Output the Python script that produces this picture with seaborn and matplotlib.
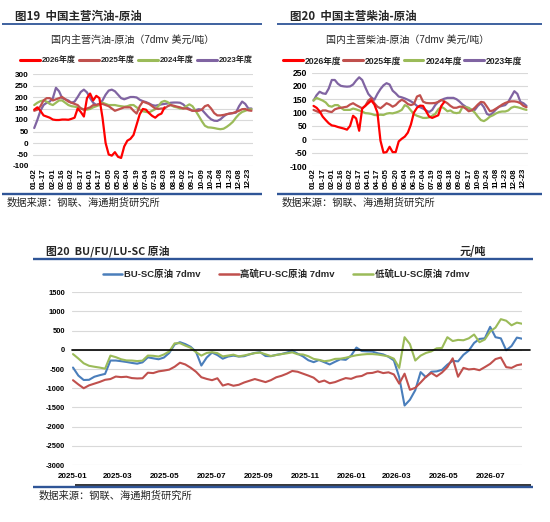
import numpy as np
import pandas as pd
import matplotlib
matplotlib.use("Agg")
import matplotlib.pyplot as plt
import matplotlib.dates as mdates
from matplotlib.lines import Line2D
import seaborn as sns

sns.set_theme(style="white")
plt.rcParams["font.family"] = ["Liberation Sans", "Noto Sans CJK SC", "DejaVu Sans"]
plt.rcParams["axes.unicode_minus"] = False

# ---------------- data ----------------
date_labels = ["01-02", "01-17", "02-01", "02-16", "03-02", "03-17", "04-01", "04-17",
               "05-05", "05-20", "06-04", "06-19", "07-04", "07-19", "08-03", "08-18",
               "09-02", "09-17", "10-09", "10-24", "11-08", "11-23", "12-08", "12-23"]
year_labels = ["2026年度", "2025年度", "2024年度", "2023年度"]

# gasoline - crude, sampled 3 points per tick interval
gas_2026 = [145, 155, 140, 120, 115, 110, 102, 100, 100, 102, 102, 101, 105, 110, 150, 135, 115, 195, 215, 185,
            205, 195, 110, 0, -50, -55, -40, -60, -65, -15, 10, 18, 35, 80, 125, 148, 145, 130, 118, 110,
            122, 128, 155]
gas_2025 = [140, 145, 160, 185, 195, 195, 185, 190, 195, 200, 190, 180, 175, 170, 165, 150, 145, 150, 155, 165,
            165, 170, 170, 165, 160, 150, 140, 145, 150, 155, 155, 155, 140, 128, 160, 180, 175, 170, 160, 150,
            148, 150, 150, 160, 165, 162, 158, 155, 150, 150, 145, 140, 140, 140, 145, 160, 165, 150, 130, 120,
            120, 122, 125, 128, 130, 135, 140, 147, 148, 142, 140]
gas_2024 = [165, 175, 182, 185, 180, 170, 165, 175, 185, 185, 175, 165, 160, 158, 155, 152, 145, 145, 148, 155,
            160, 165, 175, 170, 165, 165, 165, 162, 160, 158, 160, 165, 165, 155, 145, 138, 135, 133, 140, 147,
            160, 178, 183, 178, 165, 158, 155, 150, 150, 160, 168, 160, 140, 118, 95, 75, 68, 67, 65, 62,
            60, 62, 70, 80, 92, 110, 125, 135, 140, 145, 147]
gas_2023 = [65, 100, 140, 165, 175, 180, 195, 240, 225, 195, 190, 185, 175, 180, 200, 222, 232, 220, 195, 175,
            165, 170, 185, 210, 228, 232, 225, 210, 195, 190, 195, 200, 200, 198, 188, 182, 178, 172, 165, 162,
            165, 168, 170, 172, 175, 176, 176, 175, 168, 155, 148, 140, 143, 147, 145, 130, 115, 103, 97, 96,
            103, 115, 125, 128, 130, 132, 160, 180, 170, 150, 150]

# diesel - crude
dsl_2026 = [125, 118, 105, 85, 72, 60, 52, 50, 46, 43, 40, 36, 50, 88, 78, 32, 115, 125, 135, 145,
            130, 100, -5, -50, -48, -28, -48, -48, -8, 2, 10, 25, 55, 100, 118, 126, 125, 105, 85, 80,
            85, 90, 125, 140]
dsl_2025 = [110, 105, 100, 108, 108, 104, 102, 112, 116, 118, 120, 122, 130, 135, 128, 122, 116, 125, 145, 154,
            135, 122, 116, 125, 135, 130, 122, 128, 140, 148, 142, 132, 128, 132, 160, 165, 141, 136, 135, 135,
            136, 140, 147, 142, 135, 125, 118, 118, 122, 122, 115, 105, 108, 118, 130, 140, 138, 122, 105, 108,
            115, 122, 130, 136, 140, 142, 142, 140, 135, 125, 120]
dsl_2024 = [145, 155, 150, 145, 138, 125, 122, 128, 128, 118, 110, 110, 110, 115, 112, 108, 104, 98, 97, 95,
            91, 90, 92, 91, 96, 98, 97, 100, 104, 110, 128, 122, 108, 94, 88, 84, 80, 80, 82, 88,
            95, 112, 122, 115, 105, 108, 100, 98, 100, 122, 120, 118, 110, 100, 85, 72, 68, 75, 85, 90,
            97, 102, 104, 104, 108, 118, 122, 120, 117, 113, 110]
dsl_2023 = [145, 165, 178, 172, 170, 190, 222, 222, 208, 200, 198, 197, 198, 205, 220, 232, 222, 195, 170, 157,
            148, 170, 188, 202, 210, 205, 182, 172, 160, 157, 153, 148, 142, 135, 125, 120, 115, 108, 102, 110,
            128, 140, 147, 152, 155, 155, 155, 150, 141, 130, 122, 115, 110, 110, 125, 135, 120, 95, 90, 100,
            112, 122, 125, 128, 140, 160, 180, 170, 140, 135, 125]

# BU/FU/LU - SC, weekly from 2025-01-01
spread_start = "2025-01-01"
bu_sc = [-460, -670, -785, -780, -700, -660, -626, -278, -278, -295, -315, -340, -360, -325, -195, -220, -245, -200, -80, 140,
         200, 150, 80, -50, -409, -200, -70, -135, -230, -174, -150, -174, -165, -118, -80, -60, -160, -165, -130, -108,
         -70, -20, -100, -170, -270, -320, -265, -322, -380, -310, -245, -260, -150, 60, -30, -40, -45, -90, -118, -180,
         -275, -713, -1450, -1300, -1050, -580, -713, -570, -560, -520, -385, -285, -300, -130, -20, 180, 285, 300, 600, 330,
         300, -10, 100, 320, 290]
fu_sc = [-790, -900, -1000, -925, -880, -835, -780, -760, -695, -710, -700, -735, -745, -740, -595, -605, -560, -540, -515, -440,
         -335, -380, -465, -570, -713, -757, -790, -740, -930, -890, -935, -910, -850, -805, -760, -800, -840, -790, -715, -675,
         -620, -550, -570, -620, -670, -725, -840, -800, -870, -840, -785, -735, -755, -700, -680, -610, -600, -560, -605, -585,
         -640, -880, -620, -1040, -990, -850, -700, -600, -690, -590, -450, -220, -700, -470, -510, -496, -530, -450, -365, -240,
         -200, -450, -470, -400, -375]
lu_sc = [-110, -225, -350, -415, -440, -462, -490, -150, -190, -245, -275, -278, -292, -280, -148, -155, -174, -120, -40, 170,
         174, 110, 55, -60, -150, -80, -60, -85, -170, -148, -125, -170, -145, -115, -85, -70, -115, -160, -135, -110,
         -90, -65, -115, -120, -165, -235, -260, -296, -278, -235, -230, -205, -170, -140, -122, -110, -110, -122, -145, -170,
         -230, -470, 330, 150, -278, -150, -80, -40, 40, 50, 330, 230, 260, 250, 300, 400, 200, 270, 480, 580,
         800, 760, 640, 710, 680]
spread_labels = ["BU-SC原油 7dmv", "高硫FU-SC原油 7dmv", "低硫LU-SC原油 7dmv"]

# ---------------- styles ----------------
C26, C25, C24, C23 = "#FF0000", "#C0504D", "#9BBB59", "#8064A2"
CBLUE = "#4A7EBB"
SEP = "#2F5597"
GRID = "#D9D9D9"
W, H = 550, 522


def fx(px):
    return px / W


def fy(py):
    return 1 - py / H


fig = plt.figure(figsize=(5.5, 5.22), dpi=100)
fig.patch.set_facecolor("white")


def hline(x0, x1, y, color, lw):
    fig.add_artist(Line2D([fx(x0), fx(x1)], [fy(y), fy(y)], transform=fig.transFigure,
                          color=color, lw=lw, solid_capstyle="butt"))


def season_panel(rect, xlim, ylim, step, series, tfs):
    ax = fig.add_axes(rect)
    order = [3, 2, 1, 0]
    colors = [C26, C25, C24, C23]
    for i in order:
        vals = series[i]
        xs = np.arange(len(vals)) / 3.0
        sns.lineplot(x=xs, y=vals, color=colors[i], lw=1.6, ax=ax, zorder=3 + (3 - i))
    ax.set_xlim(*xlim)
    ax.set_ylim(*ylim)
    yt = list(range(ylim[0], ylim[1] + 1, step))
    ax.set_yticks(yt, [str(v) for v in yt], fontsize=tfs, fontweight="bold")
    ax.set_xticks(range(len(date_labels)), date_labels, rotation=90, fontsize=5.8, fontweight="bold")
    ax.tick_params(axis="y", length=0, pad=3.4, colors="#000000")
    ax.tick_params(axis="x", length=0, pad=1.5, colors="#000000")
    ax.yaxis.grid(True, color=GRID, lw=0.8)
    ax.xaxis.grid(False)
    for s in ax.spines.values():
        s.set_visible(False)
    ax.set_facecolor("none")
    ax.set_xlabel("")
    ax.set_ylabel("")
    return ax


# ---- top left: gasoline
ax1 = season_panel([fx(33.3), fy(166), (253 - 33.3) / W, (166 - 74) / H],
                   (-0.1, 23.5), (-100, 300), 50, [gas_2026, gas_2025, gas_2024, gas_2023], 5.8)
# ---- top right: diesel
ax2 = season_panel([fx(311.7), fy(166), (528.3 - 311.7) / W, (166 - 72.5) / H],
                   (-0.2, 23.53), (-100, 250), 50, [dsl_2026, dsl_2025, dsl_2024, dsl_2023], 6.2)

handles4 = [Line2D([0], [0], color=c, lw=2.2) for c in [C26, C25, C24, C23]]
fig.legend(handles4, year_labels, loc="center", bbox_to_anchor=(fx(136.5), fy(60.5)), ncol=4,
           frameon=False, prop={"size": 5.8, "weight": "bold"}, handlelength=2.45,
           handletextpad=0.25, columnspacing=0.4, borderaxespad=0, borderpad=0)
fig.legend(handles4, year_labels, loc="center", bbox_to_anchor=(fx(402.5), fy(61)), ncol=4,
           frameon=False, prop={"size": 6.2, "weight": "bold"}, handlelength=2.3,
           handletextpad=0.23, columnspacing=0.25, borderaxespad=0, borderpad=0)

fig.text(fx(15), fy(16.7), "图19  中国主营汽油-原油", fontsize=8.3, fontweight="bold",
         ha="left", va="center", family=["Noto Sans CJK SC", "DejaVu Sans"])
fig.text(fx(290), fy(16.7), "图20  中国主营柴油-原油", fontsize=8.3, fontweight="bold",
         ha="left", va="center", family=["Noto Sans CJK SC", "DejaVu Sans"])
fig.text(fx(133), fy(40), "国内主营汽油-原油（7dmv 美元/吨）", fontsize=7.2, ha="center", va="center")
fig.text(fx(408), fy(40), "国内主营柴油-原油（7dmv 美元/吨）", fontsize=7.2, ha="center", va="center")
fig.text(fx(7), fy(202.5), "数据来源：钢联、海通期货研究所", fontsize=7.4, ha="left", va="center",
         family=["Noto Sans CJK SC", "DejaVu Sans"])
fig.text(fx(282), fy(202.5), "数据来源：钢联、海通期货研究所", fontsize=7.4, ha="left", va="center",
         family=["Noto Sans CJK SC", "DejaVu Sans"])

hline(2, 262, 24, SEP, 1.3)
hline(277, 542, 24, SEP, 1.3)
hline(2, 262, 194, SEP, 1.7)
hline(277, 542, 194, SEP, 1.7)

# ---- bottom: BU/FU/LU - SC
dates = pd.date_range(spread_start, periods=len(bu_sc), freq="7D")
ax3 = fig.add_axes([fx(72), fy(465), (522 - 72) / W, (465 - 292.3) / H])
sns.lineplot(x=dates, y=bu_sc, color=CBLUE, lw=1.5, ax=ax3, zorder=3)
sns.lineplot(x=dates, y=fu_sc, color=C25, lw=1.5, ax=ax3, zorder=4)
sns.lineplot(x=dates, y=lu_sc, color=C24, lw=1.5, ax=ax3, zorder=5)
t0 = pd.Timestamp(spread_start)
ax3.set_xlim(t0 - pd.Timedelta(days=1.3), t0 + pd.Timedelta(days=587.7))
ax3.set_ylim(-3000, 1500)
yt3 = list(range(-3000, 1501, 500))
ax3.set_yticks(yt3, [str(v) for v in yt3], fontsize=5.4, fontweight="bold")
xt3 = pd.date_range("2025-01-01", "2026-07-01", freq="2MS")
ax3.set_xticks(xt3, [d.strftime("%Y-%m") for d in xt3], fontsize=5.8, fontweight="bold")
ax3.tick_params(axis="y", length=0, pad=5, colors="#000000")
ax3.tick_params(axis="x", length=0, pad=5.5, colors="#000000")
ax3.yaxis.grid(True, color=GRID, lw=0.8)
ax3.xaxis.grid(False)
for s in ax3.spines.values():
    s.set_visible(False)
ax3.set_facecolor("none")
ax3.axhline(0, xmin=0, xmax=(530 - 72) / 450, color="black", lw=1.2, clip_on=False, zorder=6)
ax3.set_xlabel("")
ax3.set_ylabel("")

handles3 = [Line2D([0], [0], color=c, lw=1.8) for c in [CBLUE, C25, C24]]
fig.legend(handles3, spread_labels, loc="center", bbox_to_anchor=(fx(285.8), fy(274)), ncol=3,
           frameon=False, prop={"size": 6.8, "weight": "bold"}, handlelength=2.07,
           handletextpad=0.16, columnspacing=2.0, borderaxespad=0, borderpad=0)

fig.text(fx(45.6), fy(251.7), "图20  BU/FU/LU-SC 原油", fontsize=7.8, fontweight="bold",
         ha="left", va="center", family=["Noto Sans CJK SC", "DejaVu Sans"])
fig.text(fx(460), fy(251.7), "元/吨", fontsize=8, fontweight="bold", ha="left", va="center",
         family=["Noto Sans CJK SC", "DejaVu Sans"])
fig.text(fx(38.6), fy(496), "数据来源：钢联、海通期货研究所", fontsize=7.4, ha="left", va="center",
         family=["Noto Sans CJK SC", "DejaVu Sans"])

hline(33, 533, 259.3, SEP, 1.7)
hline(75, 531, 485, "#000000", 1.1)
hline(33, 533, 487.3, SEP, 1.7)

fig.savefig("out.png", dpi=100, facecolor="white")
